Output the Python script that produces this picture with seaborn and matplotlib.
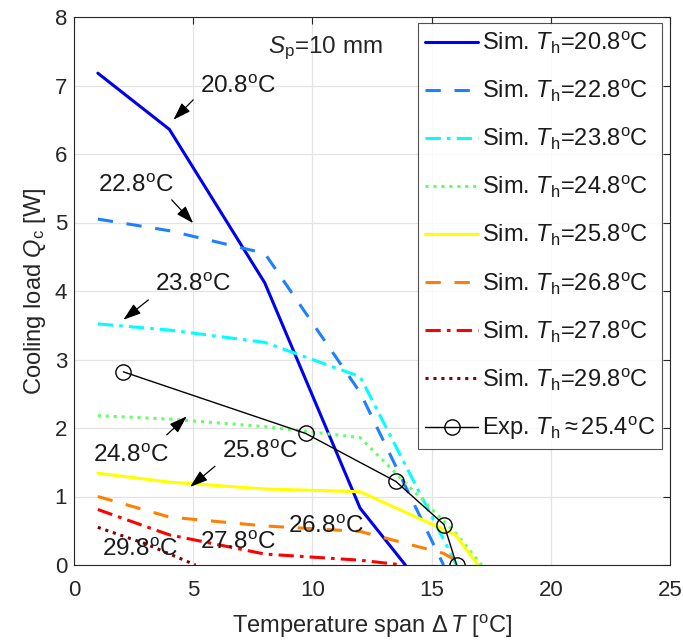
import matplotlib
matplotlib.use("Agg")
import matplotlib.pyplot as plt
import seaborn as sns
import pandas as pd

# ---- data ----
x_208 = [1.0, 4.0, 8.0, 12.0, 13.9]
y_208 = [7.18, 6.36, 4.12, 0.83, 0.0]
x_228 = [1.0, 4.0, 8.0, 12.0, 15.5]
y_228 = [5.05, 4.88, 4.55, 2.52, 0.0]
x_238 = [1.0, 4.0, 8.0, 12.0, 16.05]
y_238 = [3.52, 3.43, 3.25, 2.75, 0.0]
x_248 = [1.0, 4.0, 8.0, 12.0, 16.0, 17.1]
y_248 = [2.18, 2.13, 2.02, 1.86, 0.47, 0.0]
x_258 = [1.0, 4.0, 8.0, 12.0, 16.0, 16.95]
y_258 = [1.34, 1.21, 1.11, 1.07, 0.44, 0.0]
x_268 = [1.0, 4.0, 8.0, 12.0, 15.5, 16.35]
y_268 = [1.0, 0.70, 0.57, 0.49, 0.17, 0.0]
x_278 = [1.0, 4.0, 8.0, 12.0, 13.8]
y_278 = [0.81, 0.44, 0.16, 0.07, 0.0]
x_298 = [1.0, 3.0, 5.1]
y_298 = [0.55, 0.31, 0.0]
x_exp = [2.07, 9.72, 13.5, 15.52, 16.05]
y_exp = [2.82, 1.92, 1.22, 0.59, 0.0]

series_labels = ["20.8", "22.8", "23.8", "24.8", "25.8", "26.8", "27.8", "29.8"]
exp_label = "25.4"
xticks = [0, 5, 10, 15, 20, 25]
yticks = [0, 1, 2, 3, 4, 5, 6, 7, 8]

sns.set_theme(style="whitegrid")
plt.rcParams["font.family"] = ["Liberation Sans", "DejaVu Sans"]
plt.rcParams["mathtext.fontset"] = "custom"
plt.rcParams["mathtext.rm"] = "Liberation Sans"
plt.rcParams["mathtext.it"] = "Liberation Sans:italic"
plt.rcParams["mathtext.bf"] = "Liberation Sans:bold"

fig = plt.figure(figsize=(6.83, 6.41), dpi=100)
ax = fig.add_axes([74/683, 1-565/641, (670-74)/683, (565-17)/641])

DEG = r"$^{\rm o}$C"
styles = [
    ("#0000F0", "-"),
    ("#1E80FF", (0, (5, 4.5))),
    ("#00FFFF", (0, (5, 2, 1.2, 2))),
    ("#66FF66", (0, (1, 1.6))),
    ("#FFFF00", "-"),
    ("#FF8000", (0, (5, 4.5))),
    ("#FF0000", (0, (5, 2, 1.2, 2))),
    ("#800000", (0, (1, 1.6))),
]
xs = [x_208, x_228, x_238, x_248, x_258, x_268, x_278, x_298]
ys = [y_208, y_228, y_238, y_248, y_258, y_268, y_278, y_298]
for (c, ls), xv, yv, lab in zip(styles, xs, ys, series_labels):
    df = pd.DataFrame({"x": xv, "y": yv})
    sns.lineplot(data=df, x="x", y="y", ax=ax, color=c, linestyle=ls, lw=2.2,
                 errorbar=None, sort=False,
                 label=r"Sim. $T_{\rm h}$=" + lab + DEG)
dfe = pd.DataFrame({"x": x_exp, "y": y_exp})
sns.lineplot(data=dfe, x="x", y="y", ax=ax, color="black", lw=1.0, marker="o",
             markersize=11, markerfacecolor="none", markeredgecolor="black",
             markeredgewidth=1.0, errorbar=None, sort=False,
             label=r"Exp. $T_{\rm h}$$\approx$" + exp_label + DEG)

ax.set_xlim(0, 25)
ax.set_ylim(0, 8)
ax.set_xticks(xticks)
ax.set_yticks(yticks)
ax.grid(True, color="#e3e3e3", lw=0.9)
ax.set_facecolor("white")
for sp in ax.spines.values():
    sp.set_color("#262626")
    sp.set_linewidth(0.8)
    sp.set_visible(True)
ax.tick_params(direction="in", length=5, width=0.8, color="#262626",
               top=True, right=True, labelsize=16, labelcolor="#262626")
ax.tick_params(axis="x", pad=10.5)
ax.tick_params(axis="y", pad=5)
ax.set_xlabel(r"Temperature span $\Delta\,T$ [" + r"$^{\rm o}$C]", fontsize=17,
              color="#262626", labelpad=9)
ax.set_ylabel(r"Cooling load $Q_{\rm c}$ [W]", fontsize=17, color="#262626",
              labelpad=5)

tfs = 17.5
ax.text(8.14, 7.55, r"$S_{\rm p}$=10 mm", fontsize=tfs, va="center", ha="left")
labels_pos = [
    ("20.8", 5.29, 6.98), ("22.8", 1.0, 5.53), ("23.8", 3.4, 4.09),
    ("24.8", 0.8, 1.59), ("25.8", 6.2, 1.65), ("26.8", 8.98, 0.55),
    ("27.8", 5.29, 0.32), ("29.8", 1.17, 0.22),
]
for t, xx, yy in labels_pos:
    ax.text(xx, yy, t + DEG, fontsize=tfs, va="center", ha="left", color="#1a1a1a")

arrows = [
    ((5.0, 6.79), (4.17, 6.50)),
    ((4.1, 5.33), (5.0, 4.99)),
    ((3.12, 3.87), (2.07, 3.58)),
    ((3.89, 1.90), (4.73, 2.17)),
    ((5.91, 1.44), (4.87, 1.14)),
]
for tail, head in arrows:
    ax.annotate("", xy=head, xytext=tail,
                arrowprops=dict(arrowstyle="-|>,head_length=0.9,head_width=0.3",
                                color="black", lw=0.9, shrinkA=0, shrinkB=0))

leg = ax.legend(loc="upper right", bbox_to_anchor=(0.9866, 0.989), fontsize=17,
                frameon=True, fancybox=False, edgecolor="#262626",
                handlelength=2.25, handletextpad=0.15, labelspacing=0.93,
                borderpad=0.3, borderaxespad=0)
leg.get_frame().set_linewidth(0.8)
for txt in leg.get_texts():
    txt.set_color("#1a1a1a")

fig.savefig("out.png", dpi=100)
